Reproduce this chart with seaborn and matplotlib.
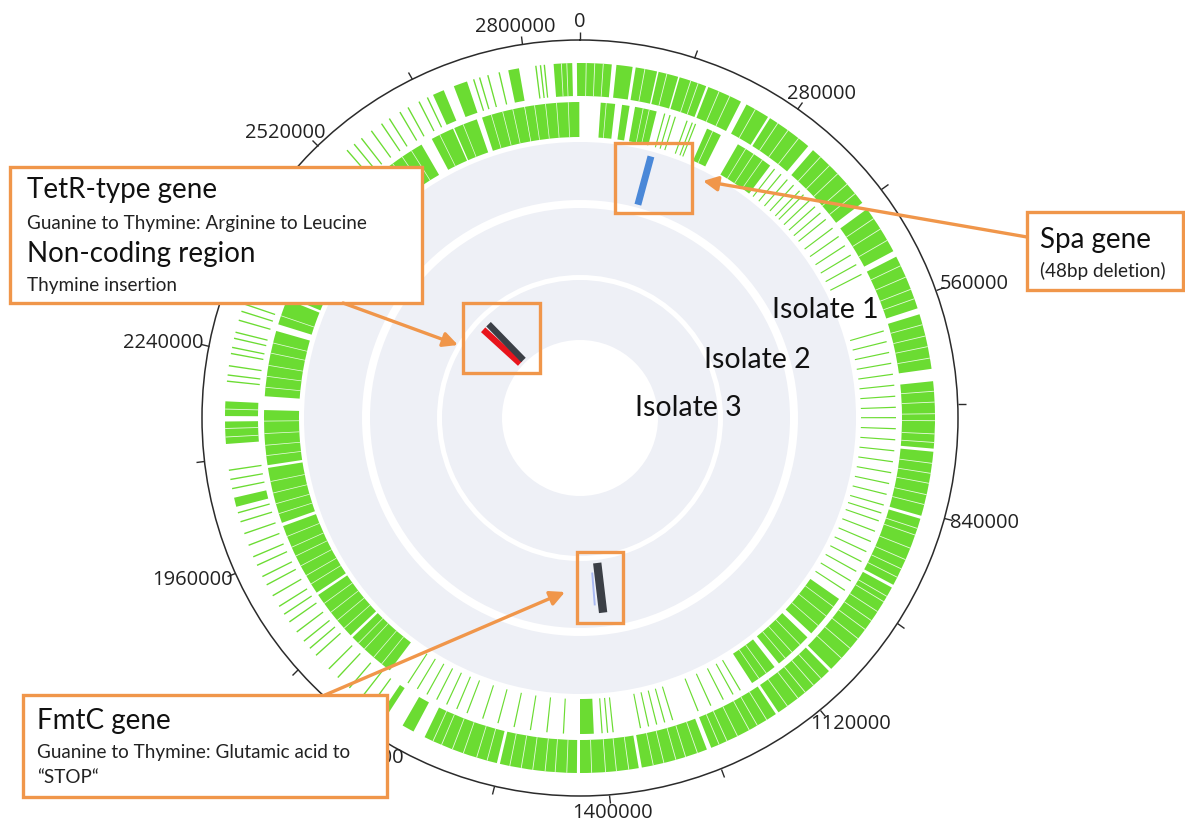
import numpy as np
import matplotlib
matplotlib.use('Agg')
import matplotlib.pyplot as plt
from matplotlib.patches import Rectangle, FancyArrowPatch
import seaborn as sns

sns.set_theme(style='white')
plt.rcParams['font.family'] = ['Lato', 'DejaVu Sans']

# ── data (genome positions in kb) ─────────────────────────────────────────────
GENOME_KB = 2870

# outer CDS ring: dense blocks and single genes
outer_start = [0, 47, 72, 102, 130, 169, 223, 258, 327, 430, 502, 582, 670, 761, 849,
               945, 1080, 1168, 1268, 1359, 1439, 1543, 1658, 1698, 2037, 2119, 2155,
               2675, 2704, 2777, 2836, 2866]
outer_end = [41, 68, 100, 128, 166, 215, 255, 319, 420, 494, 574, 654, 757, 845, 941,
             1076, 1164, 1262, 1355, 1435, 1539, 1642, 1674, 1706, 2049, 2148, 2174,
             2690, 2722, 2791, 2860, 2870]
outer_lines = [1722, 1738, 1758, 1778, 1794, 1818, 1830, 1842, 1857, 1873, 1885, 1897,
               1913, 1929, 1941, 1957, 1969, 1985, 2001, 2017, 2029, 2061, 2073, 2085,
               2200, 2208, 2220, 2236, 2244, 2256, 2264, 2280, 2292, 2302, 2328, 2360,
               2392, 2431, 2471, 2503, 2543, 2555, 2567, 2583, 2599, 2611, 2627, 2639,
               2655, 2667, 2731, 2739, 2750, 2765, 2813, 2819, 2824]
# gene boundaries inside dense outer blocks
outer_gaps = [8, 19, 30, 84, 113, 145, 155, 184, 199, 236, 270, 286, 303, 340, 356, 371,
              389, 405, 445, 461, 478, 515, 531, 548, 561, 596, 611, 625, 640, 683, 697,
              712, 721, 738, 749, 776, 789, 802, 817, 830, 862, 871, 889, 905, 918, 930,
              958, 966, 981, 995, 1009, 1024, 1040, 1057, 1094, 1107, 1121, 1133, 1150,
              1182, 1196, 1208, 1225, 1240, 1251, 1281, 1297, 1310, 1326, 1340, 1372,
              1388, 1402, 1420, 1452, 1467, 1480, 1496, 1511, 1526, 1556, 1570, 1588,
              1603, 1618, 1630, 2128, 2139, 2164, 2846, 2853]

# inner CDS ring
inner_start = [30, 61, 80, 189, 239, 996, 1068, 1132, 1415, 1730, 1806, 1885, 1998,
               2084, 2184, 2290, 2332, 2405, 2486, 2565, 2647, 2683, 2726, 2790]
inner_end = [51, 72, 112, 211, 295, 1060, 1124, 1172, 1435, 1802, 1881, 1993, 2080,
             2164, 2280, 2328, 2400, 2480, 2560, 2630, 2681, 2718, 2789, 2869]
inner_lines = [124, 132, 140, 158, 166, 171, 303, 315, 327, 339, 351, 359, 371, 383,
               395, 407, 423, 438, 454, 470, 486, 502, 590, 606, 622, 638, 654, 670,
               686, 702, 717, 733, 749, 765, 781, 797, 813, 829, 845, 857, 869, 885,
               901, 917, 933, 949, 965, 981, 1192, 1204, 1220, 1240, 1260, 1299, 1311,
               1323, 1335, 1347, 1387, 1395, 1403, 1459, 1483, 1507, 1531, 1555, 1578,
               1602, 1618, 1634, 1650, 1666, 1682, 1698]
inner_gaps = [38, 92, 101, 198, 252, 266, 281, 1010, 1027, 1045, 1083, 1099, 1112, 1147,
              1160, 1745, 1760, 1778, 1790, 1820, 1835, 1850, 1866, 1900, 1914, 1930,
              1946, 1960, 1977, 2012, 2027, 2043, 2060, 2098, 2113, 2130, 2148, 2197,
              2213, 2229, 2247, 2262, 2303, 2345, 2361, 2380, 2420, 2437, 2455, 2500,
              2517, 2533, 2547, 2580, 2597, 2613, 2660, 2697, 2740, 2757, 2772, 2804,
              2820, 2836, 2853]

tick_major = [0, 280000, 560000, 840000, 1120000, 1400000, 1680000, 1960000,
              2240000, 2520000, 2800000]
tick_minor = [140000, 420000, 700000, 980000, 1260000, 1540000, 1820000, 2100000,
              2380000, 2660000]

isolates = ['Isolate 1', 'Isolate 2', 'Isolate 3']

# variant calls: position (kb) and isolate ring (0 = Isolate 1)
mut_kb = [121, 2490, 2517, 1381, 1399]
mut_ring = [0, 2, 2, 1, 1]

# ── styles / layout (pixels) ──────────────────────────────────────────────────
W, H = 1185, 822
CX, CY, R = 580, 418, 378
GREEN = '#6bdc32'
GREY = '#eef0f6'
ORANGE = '#f0964a'
mut_colors = ['#4a88d8', '#e8141c', '#3b3f46', '#3b3f46', '#a9b9f2']
mut_lw = [5, 4.6, 4.6, 6, 1.4]
outer_r = (322, 355)
inner_r = (281, 316)
ring_r = [(218, 276), (143, 210), (78, 138)]
LINE_KB = 1.8
GAP_KB = 1.1

fx = lambda x: x / W
fy = lambda y: 1 - y / H
to_rad = lambda kb: np.asarray(kb, dtype=float) / GENOME_KB * 2 * np.pi

fig = plt.figure(figsize=(W / 100, H / 100), dpi=100)
fig.patch.set_facecolor('white')
ax = fig.add_axes([fx(CX - R), 1 - (CY + R) / H, 2 * R / W, 2 * R / H], projection='polar')
ax.set_theta_zero_location('N')
ax.set_theta_direction(-1)
ax.set_ylim(0, R)
ax.set_facecolor('white')
ax.grid(False)
ax.set_yticks([])
ax.spines['polar'].set_color('#2b2b2b')
ax.spines['polar'].set_linewidth(1.1)

# isolate rings
for r0, r1 in ring_r:
    ax.bar(0, r1 - r0, width=2 * np.pi, bottom=r0, color=GREY, linewidth=0)


def draw_ring(starts, ends, lines, gaps, rr):
    s, e = to_rad(starts), to_rad(ends)
    h = rr[1] - rr[0]
    ax.bar((s + e) / 2, h, width=e - s, bottom=rr[0], color=GREEN, linewidth=0)
    ax.bar(to_rad(lines), h, width=to_rad(LINE_KB), bottom=rr[0], color=GREEN, linewidth=0)
    ax.bar(to_rad(gaps), h, width=to_rad(GAP_KB), bottom=rr[0], color='white',
           alpha=0.85, linewidth=0)


draw_ring(outer_start, outer_end, outer_lines, outer_gaps, outer_r)
draw_ring(inner_start, inner_end, inner_lines, inner_gaps, inner_r)

# variants
for kb, ring, c, lw in zip(mut_kb, mut_ring, mut_colors, mut_lw):
    r0 = ring_r[ring][0]
    r_top = r0 + 53 if lw > 2 else r0 + 45
    r_bot = r0 + 3 if lw > 2 else r0 + 12
    th = to_rad(kb)
    ax.plot([th, th], [r_bot, r_top], color=c, lw=lw, solid_capstyle='butt')

# ticks on the outer circle only
ax.set_xticks(to_rad(np.array(tick_major) / 1000))
ax.set_xticks(to_rad(np.array(tick_minor) / 1000), minor=True)
ax.tick_params(axis='x', which='both', direction='out', length=6, width=1,
               color='#2b2b2b', labelbottom=False, labeltop=False, bottom=False, top=True)
ax.set_xticklabels([])

for t in tick_major:
    th = to_rad(t / 1000)
    lab = str(t)
    w_px, h_px, pad = 11 * len(lab), 20, 8
    dx = (pad + w_px / 2) * np.sin(th)
    dy = (pad + h_px / 2) * np.cos(th)
    ax.annotate(lab, xy=(th, R), xytext=(dx * 0.72, dy * 0.72), textcoords='offset points',
                ha='center', va='center', fontsize=14.5, color='#222222',
                family='Open Sans', annotation_clip=False)

# isolate labels
for name, (x, y) in zip(isolates, [(825, 310), (757, 360), (688, 408)]):
    fig.text(fx(x), fy(y), name, ha='center', va='center', fontsize=20.5, color='#111111')

# callout boxes
def box(x0, y0, x1, y1, fill):
    fig.add_artist(Rectangle((fx(x0), fy(y1)), (x1 - x0) / W, (y1 - y0) / H,
                             transform=fig.transFigure, facecolor='white' if fill else 'none',
                             edgecolor=ORANGE, linewidth=2.4, zorder=2))


def arrow(x0, y0, x1, y1):
    fig.add_artist(FancyArrowPatch((fx(x0), fy(y0)), (fx(x1), fy(y1)),
                                   transform=fig.transFigure, arrowstyle='-|>',
                                   mutation_scale=22, color=ORANGE, linewidth=2.4,
                                   shrinkA=0, shrinkB=0, zorder=2.5))


box(615, 143, 692, 213, False)
box(463, 303, 540, 373, False)
box(577, 552, 623, 623, False)

arrow(1027, 237, 703, 181)
arrow(343, 303, 458, 345)
arrow(325, 695, 565, 592)

box(10, 167, 422, 303, True)
box(1027, 212, 1183, 290, True)
box(23, 695, 387, 797, True)

big, small = 20, 13.6
fig.text(fx(27), fy(190), 'TetR-type gene', fontsize=big, va='center', color='#111111')
fig.text(fx(27), fy(223), 'Guanine to Thymine: Arginine to Leucine', fontsize=small,
         va='center', color='#222222')
fig.text(fx(27), fy(254), 'Non-coding region', fontsize=big, va='center', color='#111111')
fig.text(fx(27), fy(286), 'Thymine insertion', fontsize=small, va='center', color='#222222')

fig.text(fx(1040), fy(240), 'Spa gene', fontsize=big, va='center', color='#111111')
fig.text(fx(1040), fy(271), '(48bp deletion)', fontsize=small, va='center', color='#222222')

fig.text(fx(37), fy(721), 'FmtC gene', fontsize=big, va='center', color='#111111')
fig.text(fx(37), fy(752), 'Guanine to Thymine: Glutamic acid to', fontsize=small,
         va='center', color='#222222')
fig.text(fx(37), fy(777), '\u201cSTOP\u201c', fontsize=small, va='center', color='#222222')

fig.savefig('out.png', dpi=100, facecolor='white')
